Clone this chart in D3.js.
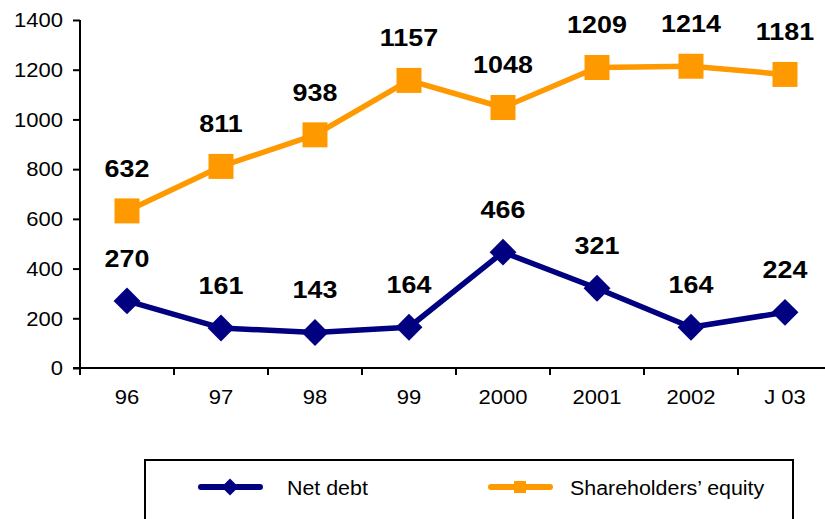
<!DOCTYPE html>
<html>
<head>
<meta charset="utf-8">
<script src="https://cdn.jsdelivr.net/npm/d3@7"></script>
<style>
  body{margin:0;background:#fff;}
  svg{display:block;font-family:Arial,"Liberation Sans",sans-serif;}
</style>
</head>
<body>
<div id="chart"></div>
<script>
const categories=['96','97','98','99','2000','2001','2002','J 03'];
const netDebt=[270,161,143,164,466,321,164,224];
const equity=[632,811,938,1157,1048,1209,1214,1181];
const yTicks=[0,200,400,600,800,1000,1200,1400];

const W=825, H=519;
const svg=d3.select('#chart').append('svg').attr('width',W).attr('height',H);

// the original text is a bit wider than plain Arial
function stretch(sel,k=1.16){
  sel.each(function(){
    const t=d3.select(this), ax=+t.attr('x')||0;
    t.attr('transform',`translate(${ax},0) scale(${k},1) translate(${-ax},0)`);
  });
}

const x=d3.scaleBand().domain(categories).range([80,80+94*8]);
const y=d3.scaleLinear().domain([0,1400]).range([368,20]);

// axes
const yAx=svg.append('g').attr('transform','translate(80,0)')
  .call(d3.axisLeft(y).tickValues(yTicks).tickFormat(d3.format('d')).tickSize(7).tickPadding(10));
yAx.select('.domain').attr('stroke','#000').attr('stroke-width',2).attr('d','M0,20V368');
yAx.selectAll('.tick line').attr('stroke','#000').attr('stroke-width',2);
yAx.selectAll('.tick text').attr('font-size',19.5).attr('fill','#000').attr('dy','0.35em').call(stretch,1.13);

const xAx=svg.append('g').attr('transform','translate(0,368)')
  .call(d3.axisBottom(x).tickSize(0).tickPadding(22));
xAx.select('.domain').attr('stroke','#000').attr('stroke-width',2).attr('d','M73,0H'+W);
xAx.selectAll('.tick text').attr('font-size',19.5).attr('fill','#000').call(stretch,1.13);
// tick marks between bands
svg.append('g').selectAll('line').data(categories).join('line')
  .attr('x1',d=>x(d)).attr('x2',d=>x(d)).attr('y1',368).attr('y2',375)
  .attr('stroke','#000').attr('stroke-width',2);

const cx=d=>x(d)+x.bandwidth()/2;
const line=d3.line().x((d,i)=>cx(categories[i])).y(d=>y(d));

function series(vals,color,shape,size){
  svg.append('path').datum(vals).attr('d',line)
    .attr('fill','none').attr('stroke',color).attr('stroke-width',5.5).attr('stroke-linejoin','round');
  svg.append('g').selectAll('path').data(vals).join('path')
    .attr('transform',(d,i)=>`translate(${cx(categories[i])},${y(d)})${shape==='diamond'?' rotate(45)':''}`)
    .attr('d',`M${-size/2},${-size/2}h${size}v${size}h${-size}z`)
    .attr('fill',color);
  svg.append('g').selectAll('text').data(vals).join('text')
    .attr('x',(d,i)=>cx(categories[i])).attr('y',d=>y(d)-34)
    .attr('text-anchor','middle').attr('font-size',24).attr('font-weight','bold').attr('fill','#000')
    .text(d=>d).call(stretch,1.12);
}
series(equity,'#FF9900','square',25);
series(netDebt,'#000080','diamond',19);

// legend
const lg=svg.append('g');
lg.append('rect').attr('x',145).attr('y',460).attr('width',648).attr('height',80)
  .attr('fill','#fff').attr('stroke','#000').attr('stroke-width',2);
const items=[{name:'Net debt',color:'#000080',shape:'diamond',x:201,tx:287},
             {name:'Shareholders\u2019 equity',color:'#FF9900',shape:'square',x:491,tx:570}];
items.forEach(it=>{
  lg.append('line').attr('x1',it.x).attr('x2',it.x+59).attr('y1',487).attr('y2',487)
    .attr('stroke',it.color).attr('stroke-width',6).attr('stroke-linecap','round');
  const s=it.shape==='diamond'?12:12;
  lg.append('path')
    .attr('transform',`translate(${it.x+29},487)${it.shape==='diamond'?' rotate(45)':''}`)
    .attr('d',`M${-s/2},${-s/2}h${s}v${s}h${-s}z`).attr('fill',it.color);
  lg.append('text').attr('x',it.tx).attr('y',488).attr('dy','0.35em')
    .attr('font-size',20).attr('fill','#000').text(it.name).call(stretch,1.07);
});
</script>
</body>
</html>
